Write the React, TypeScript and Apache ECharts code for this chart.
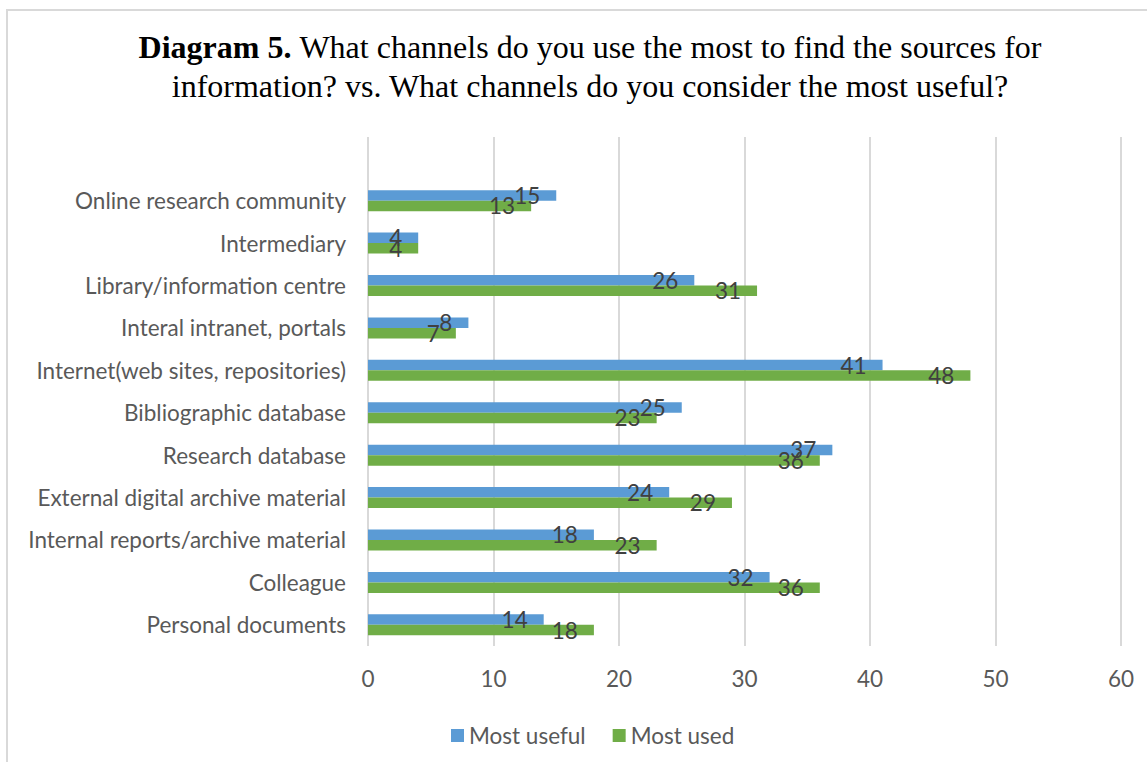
import React, { useEffect, useRef } from "react";
import * as echarts from "echarts";

// Categories listed bottom to top (ECharts category y-axis starts at the bottom); top slot is empty
const categories = [
  "Personal documents",
  "Colleague",
  "Internal reports/archive material",
  "External digital archive material",
  "Research database",
  "Bibliographic database",
  "Internet(web sites, repositories)",
  "Interal intranet, portals",
  "Library/information centre",
  "Intermediary",
  "Online research community",
  "",
];
const mostUseful = [14, 32, 18, 24, 37, 25, 41, 8, 26, 4, 15, null];
const mostUsed = [18, 36, 23, 29, 36, 23, 48, 7, 31, 4, 13, null];
const xTicks = { min: 0, max: 60, interval: 10 };

const FONT = "Lato";
const FS = 22.5;

export default function App() {
  const ref = useRef<HTMLDivElement>(null);
  useEffect(() => {
    if (!ref.current) return;
    const chart = echarts.init(ref.current, undefined, { renderer: "svg" });
    const label = {
      show: true,
      position: "insideRight",
      distance: 16,
      color: "#404040",
      fontSize: FS,
      fontFamily: FONT,
    };
    chart.setOption({
      animation: false,
      backgroundColor: "#ffffff",
      title: {
        text:
          "{b|Diagram 5.} {r|What channels do you use the most to find the sources for}\n{r|information? vs. What channels do you consider the most useful?}",
        left: 585,
        textAlign: "center",
        top: 22,
        textStyle: {
          fontWeight: "normal",
          fontFamily: "Liberation Serif",
          fontSize: 32,
          rich: {
            b: { fontFamily: "Liberation Serif", fontWeight: "bold", fontSize: 32, color: "#000", lineHeight: 39 },
            r: { fontFamily: "Liberation Serif", fontWeight: "normal", fontSize: 32, color: "#000", lineHeight: 39 },
          },
        },
      },
      graphic: [
        {
          type: "rect",
          shape: { x: 7, y: 10, width: 1200, height: 800 },
          style: { fill: "none", stroke: "#d9d9d9", lineWidth: 2 },
          silent: true,
        },
      ],
      legend: {
        data: ["Most useful", "Most used"],
        left: 446,
        top: 719,
        icon: "rect",
        itemWidth: 13,
        itemHeight: 13,
        itemGap: 27,
        textStyle: { color: "#595959", fontSize: FS, fontFamily: FONT },
      },
      grid: { left: 368, right: 26, top: 137, bottom: 116, containLabel: false },
      xAxis: {
        type: "value",
        min: xTicks.min,
        max: xTicks.max,
        interval: xTicks.interval,
        axisLine: { show: false },
        axisTick: { show: false },
        axisLabel: { color: "#595959", fontSize: FS, fontFamily: FONT, margin: 21 },
        splitLine: { show: true, lineStyle: { color: "#d9d9d9", width: 2 } },
      },
      yAxis: {
        type: "category",
        data: categories,
        axisLine: { show: false },
        axisTick: { show: false },
        axisLabel: { color: "#595959", fontSize: FS, fontFamily: FONT, margin: 22, padding: [0, 0, 3, 0] },
      },
      series: [
        {
          name: "Most useful",
          type: "bar",
          data: mostUseful,
          barWidth: 10.5,
          barGap: "0%",
          itemStyle: { color: "#5b9bd5" },
          label,
        },
        {
          name: "Most used",
          type: "bar",
          data: mostUsed,
          barWidth: 10.5,
          barGap: "0%",
          itemStyle: { color: "#70ad47" },
          label,
        },
      ],
    });
    return () => chart.dispose();
  }, []);
  return (
    <div
      ref={ref}
      style={{ position: "absolute", left: 0, top: 0, width: 1147, height: 762 }}
    />
  );
}
